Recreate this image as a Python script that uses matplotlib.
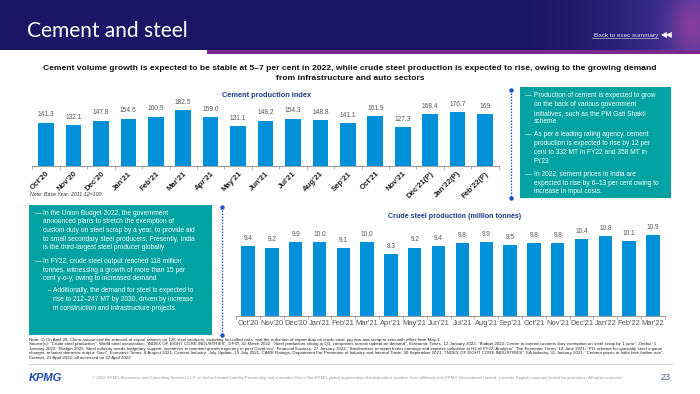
# -*- coding: utf-8 -*-

import numpy as np
import matplotlib
matplotlib.use('Agg')
import matplotlib.pyplot as plt
from matplotlib.patches import Rectangle

plt.rcParams['font.family'] = ['Liberation Sans', 'DejaVu Sans']

# ---- data ----
cement_months = ["Oct'20", "Nov'20", "Dec'20", "Jan'21", "Feb'21", "Mar'21", "Apr'21",
                 "May'21", "Jun'21", "Jul'21", "Aug'21", "Sep'21", "Oct'21", "Nov'21",
                 "Dec'21(P)", "Jan'22(P)", "Feb'22(P)"]
cement_index = [141.3, 132.1, 147.8, 154.6, 160.9, 182.5, 159.0, 131.1, 148.2, 154.3,
                148.8, 141.1, 161.9, 127.3, 168.4, 176.7, 169]
cement_labels = ['141.3', '132.1', '147.8', '154.6', '160.9', '182.5', '159.0', '131.1',
                 '148.2', '154.3', '148.8', '141.1', '161.9', '127.3', '168.4', '176.7', '169']

steel_months = ["Oct'20", "Nov'20", "Dec'20", "Jan'21", "Feb'21", "Mar'21", "Apr'21",
                "May'21", "Jun'21", "Jul'21", "Aug'21", "Sep'21", "Oct'21", "Nov'21",
                "Dec'21", "Jan'22", "Feb'22", "Mar'22"]
steel_mt = [9.4, 9.2, 9.9, 10.0, 9.1, 10.0, 8.3, 9.2, 9.4, 9.8, 9.9, 9.5, 9.8, 9.8,
            10.4, 10.8, 10.1, 10.9]

cement_notes = [
    ("Production of cement is expected to grow", "on the back of various government",
     "initiatives, such as the PM Gati Shakti", "scheme"),
    ("As per a leading rating agency, cement", "production is expected to rise by 12 per",
     "cent to 332 MT in FY22 and 358 MT in", "FY23"),
    ("In 2022, cement prices in India are", "expected to rise by 6\u201313 per cent owing to",
     "increase in input costs."),
]
steel_notes = [
    ("In the Union Budget 2022, the government", "announced plans to stretch the exemption of",
     "custom duty on steel scrap by a year, to provide aid",
     "to small secondary steel producers. Presently, India",
     "is the third-largest steel producer globally"),
    ("In FY22, crude steel output reached 118 million",
     "tonnes, witnessing a growth of more than 15 per",
     "cent y-o-y, owing to increased demand"),
]
steel_subnote = ("Additionally, the demand for steel is expected to",
                 "rise to 212\u2013247 MT by 2030, driven by increase",
                 "in construction and infrastructure projects.")

source_lines = [
    "Note: 1) On April 28, China announced the removal of export rebates on 126 steel products, including hot-rolled coils, and the reduction of import duty on crude steel, pig iron and scrap to zero with effect from May 1",
    "Source(s): \u201cCrude steel production\u201d, World steel association; \u201cINDEX OF EIGHT CORE INDUSTRIES\u201d, DPIIT, 31 March 2022; \u201cSteel production strong in Q3, companies remain upbeat on demand\u201d, Economic Times, 12 January 2022; \u201cBudget 2022: Centre to extend customs duty exemption on steel scrap by 1 year\u201d, Zeebiz, 1",
    "January 2022; \u201cBudget 2022: Steel industry needs budgetary support, incentives to maintain growth trajectory in post Covid era\u201d, Financial Express, 27 January 2022; \u201cSteelmakers to report better earnings and improve utilization in H2 of FY22: Analysts\u201d, The Economic Times\u2019 14 June 2021; \u201cPLI scheme for specialty steel a game",
    "changer, to boost domestic output: Govt\u201d, Economic Times, 8 August 2021; Cement Industry: July Update, 19 July 2021, CARE Ratings; Department For Promotion of Industry and Internal Trade, 30 September 2021, \u201cINDEX OF EIGHT CORE INDUSTRIES\u201d, EA Industry, 31 January 2021; \u201cCement prices in India face further rise\u201d,",
    "Cemnet, 21 April 2022; all accessed on 22 April 2022",
]

NAVY = '#1c1464'
PURPLE = '#7a2a8c'
BAR = '#0091da'
TEAL = '#00a3a1'
TITLE_BLUE = '#1e3c8c'
DOT_BLUE = '#1f4fd1'

W, H = 700, 394
fig = plt.figure(figsize=(7, 3.94), dpi=100)

bg = fig.add_axes([0, 0, 1, 1])
bg.set_xlim(0, W)
bg.set_ylim(H, 0)
bg.axis('off')


def px_axes(left, top, right, bottom):
    return fig.add_axes([left / W, 1 - bottom / H, (right - left) / W, (bottom - top) / H])


# ---- header ----
bg.add_patch(Rectangle((0, 0), W, 50, color=NAVY, lw=0))
grad = np.zeros((50, 200, 3))
nv = np.array(matplotlib.colors.to_rgb(NAVY))
pu = np.array(matplotlib.colors.to_rgb('#4b3aa0'))
pk = np.array(matplotlib.colors.to_rgb('#b8449e'))
for j in range(200):
    t = (j / 199.0) ** 2
    grad[:, j, :] = nv * (1 - t) + pu * t
yy, xx = np.mgrid[0:50, 0:200]
blob = np.exp(-(((xx - 190) / 20.0) ** 2 + ((yy - 25) / 30.0) ** 2))
grad = grad * (1 - 0.55 * blob[..., None]) + pk * 0.55 * blob[..., None]
bg.imshow(grad, extent=(500, 700, 50, 0), aspect='auto', zorder=1)
bg.add_patch(Rectangle((207, 50), W - 207, 3.5, color=PURPLE, lw=0, zorder=2))
bg.text(27, 31, 'Cement and steel', color='white', fontsize=15, family=['Lato', 'DejaVu Sans'],
        fontweight='normal', va='center', ha='left', zorder=3)
bg.text(658, 35, 'Back to exec summary', color='#dddde8', fontsize=4.6, ha='right', va='center', zorder=3)
bg.plot([592, 658], [37.5, 37.5], color='#dddde8', lw=0.4, zorder=3)
bg.text(661, 35, '\u25c0\u25c0', color='white', fontsize=5.5, family=['DejaVu Sans'],
        ha='left', va='center', zorder=3)

# ---- subtitle ----
bg.text(350, 68, 'Cement volume growth is expected to be stable at 5\u20137 per cent in 2022, while crude steel production is expected to rise, owing to the growing demand',
        fontsize=6.1, fontweight='bold', ha='center', va='center', color='#111111')
bg.text(350, 78, 'from infrastructure and auto sectors',
        fontsize=6.1, fontweight='bold', ha='center', va='center', color='#111111')

# ---- cement chart ----
ax1 = px_axes(32.3, 104.6, 498.8, 166)
x1 = np.arange(len(cement_months))
ax1.bar(x1, cement_index, width=0.57, color=BAR, zorder=2)
for xi, v, lab in zip(x1, cement_index, cement_labels):
    ax1.annotate(lab, (xi, v), xytext=(0, 3), textcoords='offset points',
                 ha='center', va='bottom', fontsize=4.8, color='#555555')
ax1.set_xlim(-0.5, len(cement_months) - 0.5)
ax1.set_ylim(0, 200)
ax1.set_xticks(x1)
ax1.set_xticklabels(cement_months, rotation=45, ha='right', rotation_mode='anchor',
                    fontsize=5.6, fontweight='bold', color='#222222')
ax1.set_xticks(np.arange(-0.5, len(cement_months)), minor=True)
ax1.tick_params(axis='x', which='major', length=0, pad=3)
ax1.tick_params(axis='x', which='minor', length=2, width=0.5, color='#888888')
ax1.set_yticks([])
for s in ['top', 'right', 'left']:
    ax1.spines[s].set_visible(False)
ax1.spines['bottom'].set_color('#888888')
ax1.spines['bottom'].set_linewidth(0.6)
ax1.patch.set_alpha(0)
bg.text(267, 95, 'Cement production index', fontsize=5.3, fontweight='bold',
        color=TITLE_BLUE, ha='center', va='center')
bg.text(30, 194, 'Note: Base Year: 2011-12=100', fontsize=3.8, style='italic',
        color='#333333', ha='left', va='center')

# ---- steel chart ----
ax2 = px_axes(236.1, 223.1, 664.9, 316)
x2 = np.arange(len(steel_months))
ax2.bar(x2, steel_mt, width=0.56, color=BAR, zorder=2)
for xi, v in zip(x2, steel_mt):
    ax2.annotate('%.1f' % v, (xi, v), xytext=(0, 3), textcoords='offset points',
                 ha='center', va='bottom', fontsize=4.7, color='#555555')
ax2.set_xlim(-0.5, len(steel_months) - 0.5)
ax2.set_ylim(0, 12.5)
ax2.set_xticks(x2)
ax2.set_xticklabels(steel_months, fontsize=5.4, color='#555555')
ax2.set_xticks(np.arange(-0.5, len(steel_months)), minor=True)
ax2.tick_params(axis='x', which='major', length=0, pad=3)
ax2.tick_params(axis='x', which='minor', length=2, width=0.5, color='#888888')
ax2.set_yticks([])
for s in ['top', 'right', 'left']:
    ax2.spines[s].set_visible(False)
ax2.spines['bottom'].set_color('#888888')
ax2.spines['bottom'].set_linewidth(0.6)
ax2.patch.set_alpha(0)
bg.text(455, 216, 'Crude steel production (million tonnes)', fontsize=5.1, fontweight='bold',
        color=TITLE_BLUE, ha='center', va='center')

# ---- dotted dividers ----
for xd, y0, y1 in [(511, 90, 198), (222, 207, 335)]:
    bg.plot([xd, xd], [y0, y1], color=DOT_BLUE, lw=0.9, ls=(0, (1.2, 1.2)))
    bg.plot([xd, xd], [y0, y1], 'o', color=DOT_BLUE, ms=2.2)

# ---- text boxes ----
BODY = 4.75
bg.add_patch(Rectangle((520, 87), 151, 111, color=TEAL, lw=0))
starts = [95.7, 135, 174.3]
for start, bullet in zip(starts, cement_notes):
    bg.text(525, start, '\u2014', color='white', fontsize=BODY, va='center')
    for k, line in enumerate(bullet):
        bg.text(534, start + k * 8.7, line, color='white', fontsize=BODY, va='center')

bg.add_patch(Rectangle((29, 205), 183, 130, color=TEAL, lw=0))
starts = [213.3, 261.7]
for start, bullet in zip(starts, steel_notes):
    bg.text(35, start, '\u2014', color='white', fontsize=BODY, va='center')
    for k, line in enumerate(bullet):
        bg.text(42.7, start + k * 8.6, line, color='white', fontsize=BODY, va='center')
bg.text(48, 291, '\u2013', color='white', fontsize=BODY, va='center')
for k, line in enumerate(steel_subnote):
    bg.text(53.3, 291 + k * 8.75, line, color='white', fontsize=BODY, va='center')

# ---- footer ----
for k, line in enumerate(source_lines):
    bg.text(29, 340 + k * 4.4, line, fontsize=3.2, color='#222222', va='center', ha='left')
bg.plot([29, 672], [364, 364], color='#cccccc', lw=0.6)
bg.text(29, 378, 'KPMG', fontsize=8, fontweight='bold', style='italic', color='#1e49b4',
        va='center', ha='left')
bg.text(357, 378, '\u00a9 2022 KPMG Assurance and Consulting Services LLP, an Indian Limited Liability Partnership and a member firm of the KPMG global organization of independent member firms affiliated with KPMG International Limited, a private English company limited by guarantee. All rights reserved.',
        fontsize=3.1, color='#999999', ha='center', va='center')
bg.text(666, 378, '23', fontsize=6.5, color='#4a5a8a', ha='center', va='center')

fig.savefig('out.png', dpi=100)
